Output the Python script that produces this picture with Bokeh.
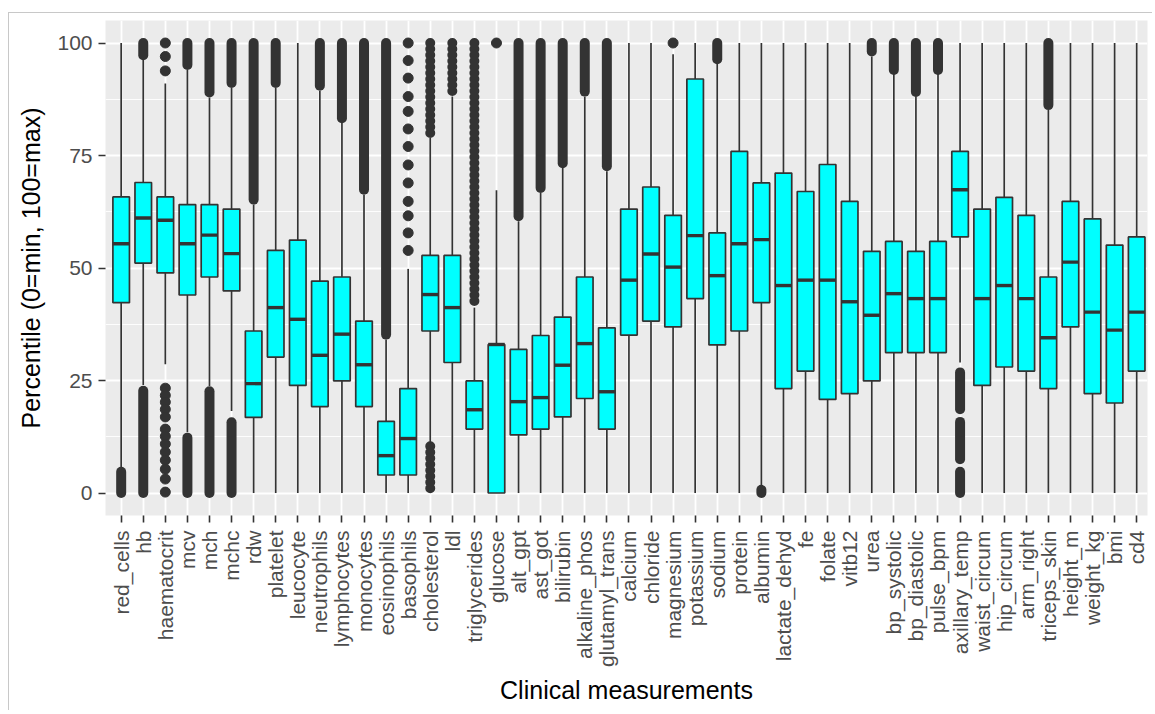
import math
from bokeh.plotting import figure
from bokeh.models import Range1d, FixedTicker
from bokeh.embed import file_html
from bokeh.resources import INLINE

categories = ["red_cells", "hb", "haematocrit", "mcv", "mch", "mchc", "rdw", "platelet",
              "leucocyte", "neutrophils", "lymphocytes", "monocytes", "eosinophils",
              "basophils", "cholesterol", "ldl", "triglycerides", "glucose", "alt_gpt",
              "ast_got", "bilirubin", "alkaline_phos", "glutamyl_trans", "calcium",
              "chloride", "magnesium", "potassium", "sodium", "protein", "albumin",
              "lactate_dehyd", "fe", "folate", "vitb12", "urea", "bp_systolic",
              "bp_diastolic", "pulse_bpm", "axillary_temp", "waist_circum", "hip_circum",
              "arm_right", "triceps_skin", "height_m", "weight_kg", "bmi", "cd4"]

q1 = [42.3, 51.1, 48.9, 44.0, 48.0, 44.9, 16.8, 30.2, 23.9, 19.2, 24.9, 19.2, 4.0,
      4.0, 36.0, 29.0, 14.2, 0.0, 12.9, 14.2, 16.9, 21.0, 14.2, 35.1, 38.2, 36.9,
      43.2, 32.9, 36.0, 42.3, 23.2, 27.1, 20.8, 22.1, 24.9, 31.2, 31.2, 31.2, 56.9,
      23.9, 28.0, 27.1, 23.2, 36.9, 22.1, 20.0, 27.1]
median = [55.4, 61.1, 60.6, 55.4, 57.3, 53.2, 24.3, 41.2, 38.6, 30.6, 35.3, 28.5, 8.3,
          12.1, 44.1, 41.2, 18.5, 33.0, 20.3, 21.2, 28.4, 33.2, 22.5, 47.3, 53.1, 50.2,
          57.2, 48.3, 55.4, 56.3, 46.1, 47.3, 47.3, 42.5, 39.5, 44.3, 43.2, 43.2, 67.4,
          43.2, 46.1, 43.2, 34.5, 51.3, 40.2, 36.2, 40.2]
q3 = [65.8, 69.0, 65.8, 64.1, 64.1, 63.1, 36.0, 53.9, 56.2, 47.1, 48.0, 38.2, 15.9,
      23.2, 52.8, 52.8, 24.9, 33.0, 31.9, 35.0, 39.1, 48.0, 36.7, 63.1, 68.0, 61.7,
      92.0, 57.8, 75.9, 68.9, 71.1, 67.0, 73.0, 64.8, 53.7, 55.9, 53.7, 55.9, 75.9,
      63.1, 65.7, 61.7, 48.0, 64.8, 60.9, 55.1, 56.9]
whisker_lo = [5.8, 24.0, 28.6, 13.5, 23.8, 18.2, 0, 0, 0, 0, 0, 0, 0,
              0, 10.9, 0, 0, 0, 0, 0, 0, 0, 0, 0, 0, 0,
              0, 0, 0, 1.5, 0, 0, 0, 0, 0, 0, 0, 0, 29.0,
              0, 0, 0, 0, 0, 0, 0, 0]
whisker_hi = [100, 96.2, 91.0, 94.0, 87.9, 90.0, 64.1, 90.0, 100, 89.4, 82.2, 66.3, 34.1,
              49.8, 78.9, 88.1, 41.2, 67.3, 60.4, 66.7, 72.2, 88.1, 71.5, 100, 100, 97.5,
              100, 95.5, 100, 100, 100, 100, 100, 100, 97.0, 93.1, 88.1, 93.1, 100,
              100, 100, 100, 85.1, 100, 100, 100, 100]

# dense runs of outliers (overlapping points), as [low, high] of point centres
band_cat = ["red_cells", "hb", "hb", "mcv", "mcv", "mch", "mch", "mchc", "mchc", "rdw",
            "platelet", "neutrophils", "lymphocytes", "monocytes", "eosinophils",
            "alt_gpt", "ast_got", "bilirubin", "alkaline_phos", "glutamyl_trans",
            "sodium", "albumin", "urea", "bp_systolic", "bp_diastolic", "pulse_bpm",
            "axillary_temp", "axillary_temp", "axillary_temp", "triceps_skin"]
band_lo = [0, 0, 97.3, 0, 95.1, 0, 89.0, 0, 91.1, 65.2,
           91.1, 90.5, 83.3, 67.4, 35.2,
           61.5, 67.8, 73.3, 89.2, 72.6,
           96.4, 0, 98.1, 94.0, 89.1, 94.0,
           0, 7.5, 18.6, 86.2]
band_hi = [4.7, 22.7, 100, 12.3, 100, 22.6, 100, 15.7, 100, 100,
           100, 100, 100, 100, 100,
           100, 100, 100, 100, 100,
           100, 0.7, 100, 100, 100, 100,
           4.7, 15.8, 26.8, 100]

# beaded runs of outliers (points just touching)
bead_cat = ["cholesterol", "cholesterol", "ldl", "triglycerides"]
bead_lo = [79.3, 0, 89.0, 42.6]
bead_hi = [100, 10.4, 100, 100]

# single outliers
dot_cat = ["haematocrit"] * 16 + ["basophils"] * 13 + ["glucose", "magnesium"]
dot_val = [100, 97.0, 93.8, 23.3, 21.7, 20.2, 18.6, 16.9, 14.2, 12.6, 10.9, 9.1, 7.3,
           5.3, 3.1, 0.2,
           53.9, 57.8, 61.6, 64.8, 68.9, 72.9, 77.0, 80.9, 84.8, 88.1, 92.2, 96.1, 100,
           100, 100]

pos = {c: i + 1 for i, c in enumerate(categories)}
xs = [pos[c] for c in categories]
BOX_W = 0.75
DARK = "#333333"

p = figure(frame_width=1042, frame_height=495,
           min_border_left=96, min_border_right=5, min_border_top=7, min_border_bottom=195,
           x_range=Range1d(0.29, 47.49), y_range=Range1d(-5, 105),
           output_backend="svg", toolbar_location=None,
           background_fill_color="#EBEBEB", border_fill_color="white",
           styles={"margin-top": "12px", "margin-left": "8px",
                   "border-top": "1px solid #c8c8c8",
                   "border-left": "1px solid #c8c8c8"})
p.outline_line_color = None

# axes
p.xaxis.ticker = FixedTicker(ticks=xs)
p.xaxis.major_label_overrides = {pos[c]: c for c in categories}
p.xaxis.major_label_orientation = math.pi / 2
p.yaxis.ticker = FixedTicker(ticks=[0, 25, 50, 75, 100], minor_ticks=[12.5, 37.5, 62.5, 87.5])
for ax in (p.xaxis, p.yaxis):
    ax.axis_line_color = None
    ax.major_tick_line_color = DARK
    ax.major_tick_line_width = 1.6
    ax.major_tick_out = 7
    ax.major_tick_in = 0
    ax.minor_tick_line_color = None
    ax.major_label_text_font = "Liberation Sans"
    ax.major_label_text_font_size = "21px"
    ax.major_label_text_color = "#4D4D4D"
    ax.axis_label_text_font = "Liberation Sans"
    ax.axis_label_text_font_size = "25px"
    ax.axis_label_text_font_style = "normal"
    ax.axis_label_text_color = "black"
p.xaxis.major_label_standoff = 8
p.yaxis.major_label_standoff = 6
p.xaxis.axis_label = "Clinical measurements"
p.yaxis.axis_label = "Percentile (0=min, 100=max)"
p.xaxis.axis_label_standoff = 6
p.yaxis.axis_label_standoff = 9

# grid
p.xgrid.grid_line_color = "white"
p.xgrid.grid_line_width = 1.8
p.ygrid.grid_line_color = "white"
p.ygrid.grid_line_width = 1.8
p.ygrid.minor_grid_line_color = "white"
p.ygrid.minor_grid_line_width = 0.9

# outliers
p.segment(x0=[pos[c] for c in band_cat], y0=band_lo, x1=[pos[c] for c in band_cat], y1=band_hi,
          line_color=DARK, line_width=10, line_cap="round")
p.segment(x0=[pos[c] for c in bead_cat], y0=bead_hi, x1=[pos[c] for c in bead_cat], y1=bead_lo,
          line_color=DARK, line_width=10, line_cap="round", line_dash="0 6")
p.scatter(x=[pos[c] for c in dot_cat], y=dot_val, size=10, color=DARK, line_color=DARK)

# whiskers
p.segment(x0=xs, y0=whisker_lo, x1=xs, y1=q1, line_color=DARK, line_width=1.7)
p.segment(x0=xs, y0=q3, x1=xs, y1=whisker_hi, line_color=DARK, line_width=1.7)

# boxes
p.vbar(x=xs, width=BOX_W, bottom=q1, top=q3, fill_color="#00FFFF", line_color=DARK, line_width=1.7)
p.segment(x0=[x - BOX_W / 2 for x in xs], y0=median, x1=[x + BOX_W / 2 for x in xs], y1=median,
          line_color=DARK, line_width=3.4)

open("out.html", "w").write(file_html(p, INLINE))
